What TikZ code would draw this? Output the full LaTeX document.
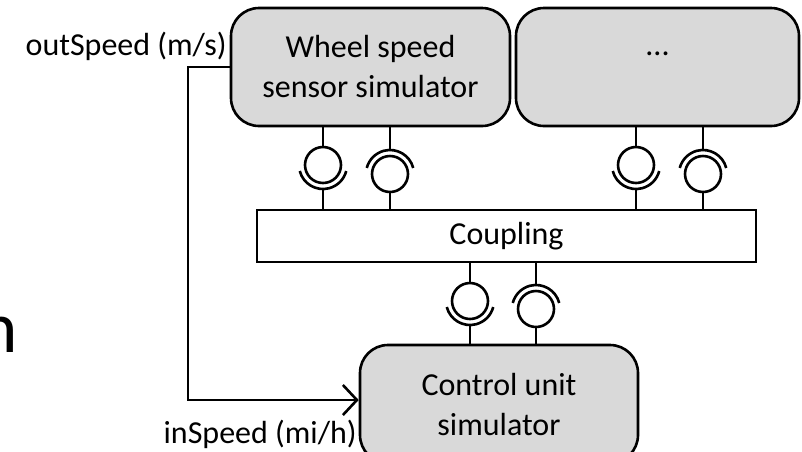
\documentclass[tikz,border=0pt]{standalone}
\usepackage{fontspec}
\setmainfont{Carlito}
\usetikzlibrary{arrows.meta,calc}
\definecolor{boxgray}{HTML}{D9D9D9}
\begin{document}
\begin{tikzpicture}[x=1pt,y=1pt,line width=2.6pt,
  every node/.style={font=\fontsize{32}{40}\selectfont},
  simbox/.style={draw,fill=boxgray,rounded corners=28pt,minimum width=279pt,minimum height=118pt,align=center,inner sep=0pt},
  ball/.style={draw,circle,minimum size=36pt,inner sep=0pt},
  sig/.style={-{Straight Barb[length=14pt,width=30pt]}},
  lbl/.style={anchor=base east,inner sep=0pt}]
\useasboundingbox (0,0) rectangle (802,-451);
% boxes
\node[simbox] (ws) at (370.5,-67) {Wheel speed\\sensor simulator};
\node[simbox,minimum width=283pt] (dots) at (657.5,-67) {\strut...\\\strut};
\node[draw,minimum width=499pt,minimum height=52pt,inner sep=0pt] (coup) at (506.5,-236) {Coupling};
\node[simbox,minimum width=278pt] (cu) at (499,-404) {Control unit\\simulator};
% labels
\node[lbl] (outl) at (228,-55) {outSpeed (m/s)};
\node[lbl] (inl) at (358,-443) {inSpeed (mi/h)};
\node[lbl,font=\fontsize{73}{80}\selectfont] (frag) at (19,-352) {n};
% signal line
\coordinate (kx) at (188,0);
\draw[sig] (ws.west) -- (ws.west -| kx) |- ([yshift=4pt]cu.west);
% top interfaces: wheel speed box
\node[ball] (b1) at (323,-165) {};
\draw (b1.center) ++(194.5:24) arc[start angle=194.5,end angle=345.5,radius=24];
\coordinate (s1) at ($(b1.center)+(0,-24)$);
\draw (ws.south -| b1) -- (b1.north);
\draw (s1) -- (s1 |- coup.north);
\node[ball] (b2) at (390,-174) {};
\draw (b2.center) ++(14.5:24) arc[start angle=14.5,end angle=165.5,radius=24];
\coordinate (s2) at ($(b2.center)+(0,24)$);
\draw (ws.south -| b2) -- (s2);
\draw (b2.south) -- (b2.south |- coup.north);
% top interfaces: dots box
\node[ball] (b3) at (636,-165) {};
\draw (b3.center) ++(194.5:24) arc[start angle=194.5,end angle=345.5,radius=24];
\coordinate (s3) at ($(b3.center)+(0,-24)$);
\draw (dots.south -| b3) -- (b3.north);
\draw (s3) -- (s3 |- coup.north);
\node[ball] (b4) at (703,-174) {};
\draw (b4.center) ++(14.5:24) arc[start angle=14.5,end angle=165.5,radius=24];
\coordinate (s4) at ($(b4.center)+(0,24)$);
\draw (dots.south -| b4) -- (s4);
\draw (b4.south) -- (b4.south |- coup.north);
% bottom interfaces: control unit
\node[ball] (b5) at (470,-301) {};
\draw (b5.center) ++(194.5:24) arc[start angle=194.5,end angle=345.5,radius=24];
\coordinate (s5) at ($(b5.center)+(0,-24)$);
\draw (coup.south -| b5) -- (b5.north);
\draw (s5) -- (s5 |- cu.north);
\node[ball] (b6) at (536,-309) {};
\draw (b6.center) ++(14.5:24) arc[start angle=14.5,end angle=165.5,radius=24];
\coordinate (s6) at ($(b6.center)+(0,24)$);
\draw (coup.south -| b6) -- (s6);
\draw (b6.south) -- (b6.south |- cu.north);
\end{tikzpicture}
\end{document}
